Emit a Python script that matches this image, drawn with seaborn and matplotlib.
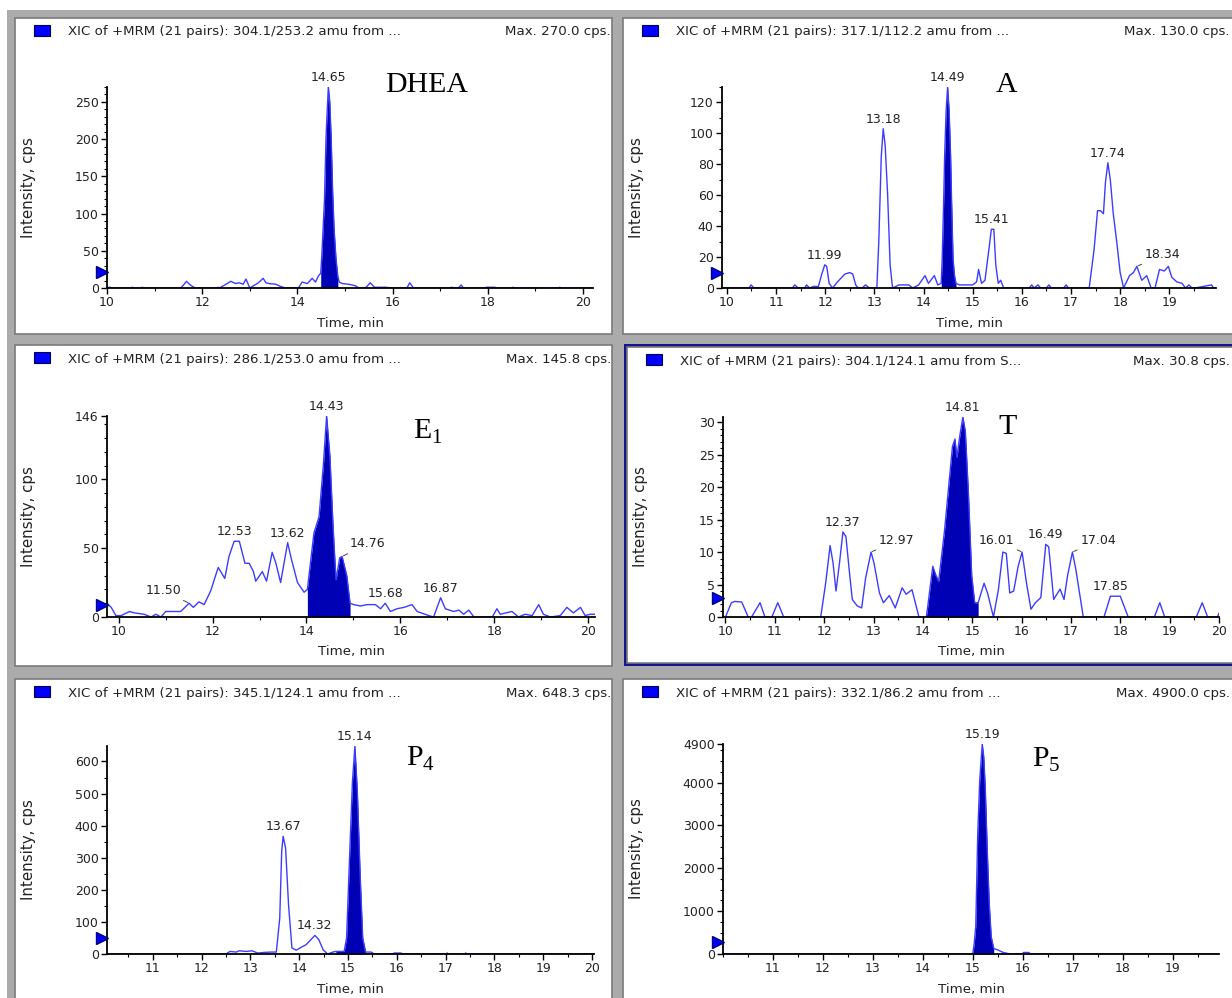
import numpy as np
import matplotlib
matplotlib.use("Agg")
import matplotlib.pyplot as plt
from matplotlib.patches import Rectangle
from matplotlib.ticker import MultipleLocator, FixedLocator
from matplotlib.transforms import blended_transform_factory
import seaborn as sns

W, H = 1232, 998

# ---- DHEA, 304.1/253.2 ----
dhea_time = [10.0, 10.04, 10.06, 10.1, 10.5, 10.53, 10.56, 10.71, 10.74, 10.77, 11.55, 11.62, 11.67,
             11.75, 11.85, 12.3, 12.33, 12.36, 12.5, 12.6, 12.7, 12.78, 12.86, 12.92, 13.0, 13.18,
             13.28, 13.34, 13.4, 13.55, 13.65, 13.75, 14.02, 14.1, 14.21, 14.31, 14.38, 14.44,
             14.49, 14.51, 14.54, 14.57, 14.6, 14.62, 14.65, 14.68, 14.71, 14.74, 14.77, 14.81,
             14.85, 14.88, 14.94, 15.08, 15.22, 15.29, 15.43, 15.53, 15.62, 15.74, 15.85, 15.99,
             16.3, 16.36, 16.44, 17.2, 17.24, 17.3, 17.38, 17.44, 17.49, 17.94, 17.97, 18.15,
             18.18, 18.5, 18.53, 18.56, 19.48, 19.51, 19.54, 20.2]
dhea_cps = [0, 1, 1, 0, 0, 1, 0, 0, 1, 0, 0, 5, 9, 4, 0, 0, 1, 0, 5, 9, 6, 7, 5, 12, 0, 7,
            13, 7, 6, 5, 2, 0, 0, 8, 6, 13, 8, 16, 20, 40, 80, 120, 200, 230, 270, 250, 200,
            130, 80, 40, 15, 8, 6, 5, 3, 0, 0, 7, 1, 1, 1, 0, 0, 7, 0, 0, 1, 0, 0, 4, 0, 0,
            1, 1, 0, 0, 1, 0, 0, 1, 0, 0]
dhea_window = (14.49, 14.85)
dhea_peaks = ["14.65"]

# ---- A, 317.1/112.2 ----
a_time = [9.9, 10.45, 10.49, 10.55, 11.33, 11.38, 11.45, 11.58, 11.62, 11.68, 11.76, 11.86, 11.93,
          11.99, 12.03, 12.08, 12.15, 12.25, 12.4, 12.5, 12.56, 12.62, 12.67, 12.75, 12.82, 12.9,
          13.05, 13.09, 13.14, 13.18, 13.22, 13.27, 13.32, 13.37, 13.5, 13.7, 13.78, 13.9, 14.03,
          14.1, 14.22, 14.29, 14.36, 14.38, 14.41, 14.43, 14.46, 14.49, 14.52, 14.55, 14.57,
          14.6, 14.63, 14.66, 14.73, 14.87, 15.0, 15.08, 15.12, 15.18, 15.25, 15.33, 15.38,
          15.43, 15.47, 15.52, 15.57, 15.63, 15.7, 16.15, 16.2, 16.25, 16.33, 16.38, 16.5,
          16.55, 16.6, 16.85, 16.9, 16.95, 17.37, 17.47, 17.54, 17.6, 17.66, 17.7, 17.75, 17.8,
          17.86, 17.93, 18.0, 18.07, 18.19, 18.27, 18.34, 18.44, 18.54, 18.63, 18.71, 18.8,
          18.9, 18.98, 19.05, 19.15, 19.26, 19.33, 19.4, 19.46, 19.52, 19.86, 19.9, 19.95]
a_cps = [0, 0, 2, 0, 0, 2, 0, 0, 2, 0, 1, 1, 9, 15, 14, 3, 0, 4, 9, 10, 9, 2, 0, 0, 2, 0,
         0, 30, 85, 103, 92, 60, 15, 0, 2, 2, 0, 2, 8, 3, 8, 2, 3, 19, 57, 86, 115, 130, 115,
         86, 57, 19, 8, 3, 2, 2, 2, 4, 12, 3, 5, 25, 38, 38, 15, 3, 5, 0, 0, 0, 2, 0, 2, 0, 0,
         2, 0, 0, 2, 0, 0, 25, 50, 50, 48, 68, 81, 70, 48, 30, 10, 0, 8, 10, 14, 5, 8, 0, 0, 12,
         11, 14, 7, 4, 3, 0, 2, 0, 0, 2, 0, 0]
a_window = (14.36, 14.66)
a_peaks = ["11.99", "13.18", "14.49", "15.41", "17.74", "18.34"]

# ---- E1, 286.1/253.0 ----
e1_time = [9.75, 9.84, 9.94, 10.05, 10.23, 10.33, 10.54, 10.69, 10.79, 10.9, 11.0, 11.32, 11.5,
           11.59, 11.71, 11.82, 11.96, 12.12, 12.26, 12.35, 12.46, 12.57, 12.69, 12.78, 12.87,
           12.92, 13.06, 13.15, 13.27, 13.35, 13.45, 13.6, 13.68, 13.81, 13.95, 14.02, 14.16,
           14.27, 14.36, 14.43, 14.5, 14.57, 14.63, 14.71, 14.76, 14.86, 14.93, 15.01, 15.15,
           15.29, 15.47, 15.58, 15.68, 15.79, 15.93, 16.08, 16.25, 16.36, 16.61, 16.71, 16.86,
           16.96, 17.14, 17.25, 17.35, 17.46, 17.57, 17.96, 18.06, 18.13, 18.38, 18.52, 18.66,
           18.81, 18.95, 19.05, 19.2, 19.41, 19.55, 19.69, 19.84, 19.94, 20.05, 20.15]
e1_cps = [10, 7, 1, 1, 4, 3, 2, 0, 2, 0, 4, 4, 10, 7, 11, 9, 19, 36, 28, 44, 55, 55, 39, 39,
          33, 26, 33, 26, 47, 39, 25, 54, 42, 25, 18, 20, 61, 73, 110, 146, 117, 64, 27, 43,
          44, 30, 10, 9, 8, 9, 9, 6, 10, 4, 6, 7, 9, 4, 1, 0, 14, 6, 4, 5, 2, 5, 0, 0, 6, 2,
          4, 0, 2, 1, 9, 2, 0, 1, 7, 3, 7, 1, 2, 2]
e1_window = (14.02, 14.93)
e1_peaks = ["11.50", "12.53", "13.62", "14.43", "14.76", "15.68", "16.87"]

# ---- T, 304.1/124.1 ----
t_time = [10.0, 10.12, 10.19, 10.33, 10.46, 10.53, 10.7, 10.8, 10.94, 11.06, 11.18, 11.93, 12.03,
          12.12, 12.18, 12.24, 12.31, 12.38, 12.44, 12.52, 12.57, 12.67, 12.76, 12.84, 12.95,
          13.01, 13.12, 13.2, 13.32, 13.44, 13.58, 13.66, 13.78, 13.92, 14.07, 14.1, 14.2, 14.26,
          14.32, 14.44, 14.54, 14.6, 14.65, 14.69, 14.75, 14.81, 14.86, 14.92, 14.99, 15.05,
          15.12, 15.16, 15.24, 15.31, 15.43, 15.53, 15.62, 15.69, 15.76, 15.84, 15.93, 16.01,
          16.1, 16.19, 16.28, 16.39, 16.49, 16.55, 16.65, 16.78, 16.86, 16.93, 17.03, 17.1,
          17.25, 17.67, 17.8, 17.9, 18.0, 18.16, 18.69, 18.8, 18.9, 19.54, 19.66, 19.77, 19.97,
          20.0]
t_cps = [0, 2.2, 2.4, 2.3, 0, 0, 2.2, 0, 0, 2.2, 0, 0, 5.2, 11, 8.3, 4, 8.3, 13.1, 12.4, 6.3,
         2.7, 1.7, 1.4, 6, 10, 8.3, 3.7, 2.2, 3.3, 1.4, 4.5, 3.5, 4.2, 0, 0, 1.7, 7.8, 6.5,
         5.5, 13.4, 21.5, 26.3, 27.4, 24.6, 28, 30.8, 28.6, 19.5, 6.3, 2.2, 2.2, 3.2, 5.2, 3.7,
         0, 4.2, 10, 9.8, 3.7, 4, 7.8, 10, 5.2, 1.2, 2.2, 3, 11.2, 10.8, 2.7, 4.3, 2.7, 6.3,
         10, 7.3, 0, 0, 3.2, 3.2, 3.2, 0, 0, 2.2, 0, 0, 2.2, 0, 0, 0.6]
t_window = (14.07, 15.12)
t_peaks = ["12.37", "12.97", "14.81", "16.01", "16.49", "17.04", "17.85"]

# ---- P4, 345.1/124.1 ----
p4_time = [10.06, 12.5, 12.58, 12.71, 12.77, 12.91, 13.03, 13.15, 13.29, 13.42, 13.53, 13.6,
           13.64, 13.67, 13.72, 13.78, 13.85, 13.94, 14.04, 14.14, 14.24, 14.32, 14.4, 14.49,
           14.58, 14.69, 14.75, 14.92, 14.97, 15.03, 15.09, 15.14, 15.19, 15.25, 15.3, 15.36,
           15.47, 15.54, 15.9, 15.95, 16.08, 16.13, 17.0, 17.03, 17.06, 17.38, 17.41, 17.44,
           20.04]
p4_cps = [0, 0, 8, 6, 10, 8, 10, 3, 5, 6, 6, 112, 320, 367, 330, 154, 19, 12, 21, 29, 45, 58,
          45, 13, 0, 6, 8, 8, 50, 299, 538, 648, 507, 237, 50, 6, 6, 0, 0, 3, 3, 0, 0, 3, 0, 0,
          3, 0, 0]
p4_window = (14.72, 15.4)
p4_peaks = ["13.67", "14.32", "15.14"]

# ---- P5, 332.1/86.2 ----
p5_time = [10.0, 15.0, 15.03, 15.06, 15.1, 15.14, 15.19, 15.22, 15.25, 15.29, 15.33, 15.37,
           15.42, 15.51, 15.6, 15.67, 15.75, 15.98, 16.02, 16.12, 16.16, 19.93]
p5_cps = [0, 0, 250, 640, 2815, 4060, 4900, 4600, 3900, 2430, 1180, 400, 130, 90, 40, 20, 0,
          0, 35, 35, 0, 0]
p5_window = (15.0, 15.42)
p5_peaks = ["15.19"]

LINE = "#3c3cff"
FILL = "#0000b4"
TXT = "#222222"

sns.set_style("ticks")
plt.rcParams["font.family"] = ["DejaVu Sans"]
plt.rcParams["mathtext.fontset"] = "custom"
plt.rcParams["mathtext.rm"] = "Liberation Serif"

fig = plt.figure(figsize=(W / 100, H / 100), dpi=100)
fig.patch.set_facecolor("white")


def fx(x):
    return x / W


def fy(y):
    return 1 - y / H


def rect(x0, y0, x1, y1, **kw):
    fig.add_artist(Rectangle((fx(x0), fy(y1)), fx(x1 - x0), (y1 - y0) / H,
                             transform=fig.transFigure, zorder=-10, **kw))


# gray frame behind the six panes
rect(7, 10, 1240, 1010, facecolor="#ababab", edgecolor="none")

panels = [
    dict(label="DHEA", t=dhea_time, v=dhea_cps, win=dhea_window, peaks=dhea_peaks,
         mrm="304.1/253.2 amu from ...", mx="Max. 270.0 cps.", mx_x=611,
         frame=(15, 18, 612, 334), box=(107, 87, 593, 288), xlim=(10, 20.21), ylim=(0, 270),
         xmaj=2, xmin=1, yticks=[0, 50, 100, 150, 200, 250], ymin=10, tri=21,
         name_xy=(427, 85)),
    dict(label="A", t=a_time, v=a_cps, win=a_window, peaks=a_peaks,
         mrm="317.1/112.2 amu from ...", mx="Max. 130.0 cps.", mx_x=1230,
         frame=(623, 18, 1240, 334), box=(722, 87, 1216, 288), xlim=(9.9, 19.95), ylim=(0, 130),
         xmaj=1, xmin=0.5, yticks=[0, 20, 40, 60, 80, 100, 120], ymin=10, tri=10,
         name_xy=(1007, 85)),
    dict(label="E$_1$", t=e1_time, v=e1_cps, win=e1_window, peaks=e1_peaks,
         mrm="286.1/253.0 amu from ...", mx="Max. 145.8 cps.", mx_x=611,
         frame=(15, 345, 612, 666), box=(107, 416, 595, 617), xlim=(9.75, 20.15), ylim=(0, 146),
         xmaj=2, xmin=1, yticks=[0, 50, 100, 146], ymin=10, tri=9,
         name_xy=(428, 432)),
    dict(label="T", t=t_time, v=t_cps, win=t_window, peaks=t_peaks,
         mrm="304.1/124.1 amu from S...", mx="Max. 30.8 cps.", mx_x=1230,
         frame=(627, 347, 1240, 663), box=(723, 417, 1219, 617), xlim=(9.95, 20.0), ylim=(0, 30.8),
         xmaj=1, xmin=0.5, yticks=[0, 5, 10, 15, 20, 25, 30], ymin=1, tri=3,
         name_xy=(1008, 427), selected=True),
    dict(label="P$_4$", t=p4_time, v=p4_cps, win=p4_window, peaks=p4_peaks,
         mrm="345.1/124.1 amu from ...", mx="Max. 648.3 cps.", mx_x=611,
         frame=(15, 679, 612, 1010), box=(107, 746, 594, 954), xlim=(10.06, 20.04), ylim=(0, 648.3),
         xmaj=1, xmin=0.5, yticks=[0, 100, 200, 300, 400, 500, 600], ymin=50, tri=50,
         name_xy=(421, 759), first_tick=11),
    dict(label="P$_5$", t=p5_time, v=p5_cps, win=p5_window, peaks=p5_peaks,
         mrm="332.1/86.2 amu from ...", mx="Max. 4900.0 cps.", mx_x=1230,
         frame=(623, 679, 1240, 1010), box=(723, 744, 1219, 954), xlim=(10.0, 19.93), ylim=(0, 4900),
         xmaj=1, xmin=0.5, yticks=[0, 1000, 2000, 3000, 4000, 4900], ymin=250, tri=290,
         name_xy=(1046, 760), first_tick=11),
]

# leader-line peak labels: offsets in pixels, alignment
leaders = {
    "18.34": (8, 5, "left"), "11.50": (-8, 6, "right"), "14.76": (8, 6, "left"),
    "12.97": (8, 5, "left"), "16.01": (-8, 5, "right"), "17.04": (8, 5, "left"),
}

for p in panels:
    x0, y0, x1, y1 = p["frame"]
    if p.get("selected"):
        rect(x0 - 3, y0 - 3, x1, y1 + 3, facecolor="#14148c", edgecolor="none")
    rect(x0, y0, x1, y1, facecolor="white", edgecolor="#7a7a7a", linewidth=1.2)

    # header line
    hx = x0 + 19
    hy = y0 + 12
    rect(hx, hy - 5, hx + 16, hy + 6, facecolor="#0000ff", edgecolor="#000050", linewidth=0.8)
    fig.text(fx(hx + 34), fy(hy + 2), "XIC of +MRM (21 pairs): " + p["mrm"], fontsize=9.6,
             color=TXT, va="center", ha="left")
    fig.text(fx(p["mx_x"]), fy(hy + 2), p["mx"], fontsize=9.6, color=TXT, va="center", ha="right")

    bx0, by0, bx1, by1 = p["box"]
    ax = fig.add_axes([fx(bx0), fy(by1), fx(bx1 - bx0), (by1 - by0) / H])
    ax.set_facecolor("none")
    t = np.array(p["t"], dtype=float)
    v = np.array(p["v"], dtype=float)

    a, b = p["win"]
    m = (t >= a) & (t <= b)
    ax.fill_between(t[m], 0, v[m], color=FILL, linewidth=0, zorder=2)
    sns.lineplot(x=t, y=v, ax=ax, color=LINE, linewidth=1.0, estimator=None, sort=False,
                 zorder=3)

    ax.set_xlim(*p["xlim"])
    ax.set_ylim(*p["ylim"])
    sns.despine(ax=ax)
    for s in ("left", "bottom"):
        ax.spines[s].set_color("black")
        ax.spines[s].set_linewidth(1.3)
        ax.spines[s].set_zorder(4)

    start = p.get("first_tick", 10)
    ax.xaxis.set_major_locator(FixedLocator(np.arange(start, 20.01, p["xmaj"])))
    ax.xaxis.set_minor_locator(MultipleLocator(p["xmin"]))
    ax.yaxis.set_major_locator(FixedLocator(p["yticks"]))
    ax.yaxis.set_minor_locator(MultipleLocator(p["ymin"]))
    ax.tick_params(which="major", direction="out", length=4, width=1, color="black",
                   labelsize=9, labelcolor=TXT, pad=2)
    ax.tick_params(which="minor", direction="out", length=2, width=0.8, color="black")

    ax.set_xlabel("Time, min", fontsize=9.6, color=TXT)
    ax.set_ylabel("Intensity, cps", fontsize=10.8, color=TXT)
    ax.xaxis.set_label_coords(0.5, -35 / (by1 - by0))
    ax.xaxis.label.set_va("center")
    lab_x = (x0 + 13) - bx0
    ax.yaxis.set_label_coords(lab_x / (bx1 - bx0), 0.5)
    ax.yaxis.label.set_va("center")

    # blue start marker on the y axis
    tr = blended_transform_factory(ax.transAxes, ax.transData)
    ax.plot([-5 / (bx1 - bx0)], [p["tri"]], marker=">", markersize=8, color="#0000ff",
            markeredgecolor="#00007a", transform=tr, clip_on=False, zorder=5)

    # peak labels
    for lab in p["peaks"]:
        at = float(lab)
        near = np.abs(t - at) <= 0.1
        k = np.argmax(np.where(near, v, -1))
        pt = (t[k], v[k])
        if lab in leaders:
            dx, dy, ha = leaders[lab]
            ax.annotate(lab, xy=pt, xytext=(dx, dy), textcoords="offset pixels",
                        ha=ha, va="bottom", fontsize=9, color=TXT,
                        arrowprops=dict(arrowstyle="-", lw=0.7, color="#444444",
                                        shrinkA=0, shrinkB=1), annotation_clip=False)
        else:
            ax.annotate(lab, xy=pt, xytext=(0, 3), textcoords="offset pixels",
                        ha="center", va="bottom", fontsize=9, color=TXT,
                        annotation_clip=False)

    nx, ny = p["name_xy"]
    fig.text(fx(nx), fy(ny), p["label"], fontsize=21.5, family="Liberation Serif",
             color="black", ha="center", va="center")

fig.savefig("out.png", dpi=100)
